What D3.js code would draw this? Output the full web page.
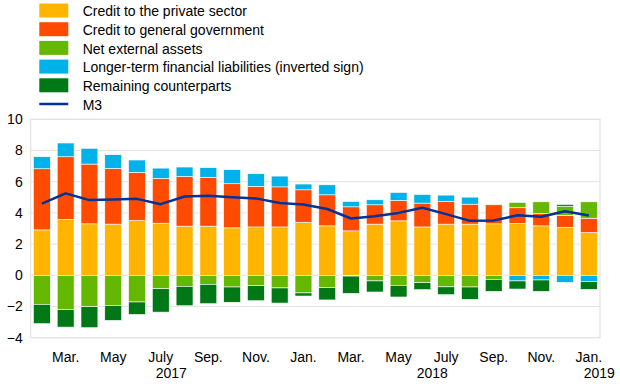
<!DOCTYPE html>
<html>
<head>
<meta charset="utf-8">
<script src="https://cdn.jsdelivr.net/npm/d3@7/dist/d3.min.js"></script>
<style>
  html, body { margin: 0; padding: 0; background: #fff; }
  svg { display: block; font-family: "Liberation Sans", Arial, sans-serif; }
</style>
</head>
<body>
<svg id="chart" width="620" height="387"></svg>
<script>
// Months: Feb 2017 .. Jan 2019
const monthNames = ["Feb.","Mar.","Apr.","May","June","July","Aug.","Sep.","Oct.","Nov.","Dec.","Jan.",
                    "Feb.","Mar.","Apr.","May","June","July","Aug.","Sep.","Oct.","Nov.","Dec.","Jan."];
const years = [2017,2017,2017,2017,2017,2017,2017,2017,2017,2017,2017,2018,
               2018,2018,2018,2018,2018,2018,2018,2018,2018,2018,2018,2019];

const privateSector = [2.91, 3.58, 3.30, 3.28, 3.51, 3.34, 3.15, 3.15, 3.04, 3.10, 3.10, 3.40,
                       3.17, 2.85, 3.28, 3.49, 3.10, 3.28, 3.28, 3.30, 3.32, 3.17, 3.08, 2.74];
const generalGov    = [3.92, 4.02, 3.83, 3.57, 3.09, 2.87, 3.19, 3.12, 2.83, 2.60, 2.57, 2.08,
                       1.99, 1.54, 1.24, 1.31, 1.53, 1.45, 1.28, 1.22, 1.01, 0.79, 0.77, 0.92];
const netExternal   = [-1.86, -2.20, -2.01, -1.93, -1.71, -0.86, -0.71, -0.58, -0.75, -0.66, -0.81, -1.13,
                       -0.79, -0.05, -0.36, -0.64, -0.47, -0.74, -0.75, -0.26, 0.34, 0.75, 0.58, 1.05];
const longerTerm    = [0.77, 0.88, 1.01, 0.88, 0.79, 0.66, 0.60, 0.63, 0.90, 0.81, 0.69, 0.37,
                       0.64, 0.34, 0.32, 0.51, 0.55, 0.41, 0.45, 0.00, -0.36, -0.30, -0.45, -0.39];
const remaining     = [-1.24, -1.12, -1.35, -0.96, -0.80, -1.50, -1.24, -1.24, -0.98, -0.97, -0.97, -0.20,
                       -0.79, -1.11, -0.71, -0.75, -0.45, -0.50, -0.79, -0.77, -0.52, -0.73, 0.11, -0.51];
const m3            = [4.60, 5.25, 4.82, 4.86, 4.90, 4.56, 5.05, 5.10, 5.01, 4.93, 4.63, 4.54,
                       4.25, 3.64, 3.79, 4.00, 4.33, 3.92, 3.49, 3.51, 3.85, 3.75, 4.11, 3.83];

const seriesKeys   = ["private", "gov", "nea", "lt", "rem"];
const seriesNames  = ["Credit to the private sector", "Credit to general government", "Net external assets",
                      "Longer-term financial liabilities (inverted sign)", "Remaining counterparts"];
const seriesColors = ["#FFB400", "#FF4B00", "#65B800", "#00B1EA", "#007816"];
const m3Name = "M3", m3Color = "#003299";
const yTicks = [-4, -2, 0, 2, 4, 6, 8, 10];

const categories = monthNames.map((m, i) => m + " " + years[i]);
const table = categories.map((c, i) => ({
  cat: c, private: privateSector[i], gov: generalGov[i], nea: netExternal[i], lt: longerTerm[i], rem: remaining[i]
}));

const svg = d3.select("#chart");
const pLeft = 30.7, pRight = 600, pTop = 119.3, pBottom = 337.7;

const x = d3.scaleBand().domain(categories).range([pLeft, pRight]).paddingInner(0.29).paddingOuter(0.115);
const y = d3.scaleLinear().domain([-4, 10]).range([pBottom, pTop]);

// gridlines
svg.append("g").selectAll("line").data(yTicks).join("line")
  .attr("x1", pLeft).attr("x2", pRight)
  .attr("y1", d => y(d)).attr("y2", d => y(d))
  .attr("stroke", "#e3e3e3").attr("stroke-width", 1);
// plot frame
svg.append("rect").attr("x", pLeft).attr("y", pTop).attr("width", pRight - pLeft).attr("height", pBottom - pTop)
  .attr("fill", "none").attr("stroke", "#e3e3e3").attr("stroke-width", 1.2);

// y axis labels
const yAxis = d3.axisLeft(y).tickValues(yTicks).tickSize(0).tickPadding(8);
const yg = svg.append("g").attr("transform", `translate(${pLeft},0)`).call(yAxis);
yg.select(".domain").remove();
yg.selectAll("text").attr("font-size", 14).attr("fill", "#000").attr("font-family", "Liberation Sans, Arial, sans-serif");

// stacked bars
const stack = d3.stack().keys(seriesKeys).offset(d3.stackOffsetDiverging);
const stacked = stack(table);
svg.append("g").selectAll("g").data(stacked).join("g")
  .attr("fill", (d, i) => seriesColors[i])
  .selectAll("rect").data(d => d).join("rect")
  .attr("x", d => x(d.data.cat))
  .attr("width", x.bandwidth())
  .attr("y", d => y(Math.max(d[0], d[1])))
  .attr("height", d => Math.abs(y(d[0]) - y(d[1])))
  .attr("stroke", "#ffffff").attr("stroke-width", 0.6);

// M3 line
const line = d3.line().x((d, i) => x(categories[i]) + x.bandwidth() / 2).y(d => y(d));
svg.append("path").datum(m3).attr("d", line)
  .attr("fill", "none").attr("stroke", m3Color).attr("stroke-width", 2.5).attr("stroke-linejoin", "round");

// x axis labels (every second month starting with Mar.)
const xAxis = d3.axisBottom(x)
  .tickValues(categories.filter((c, i) => i % 2 === 1))
  .tickFormat(c => monthNames[categories.indexOf(c)])
  .tickSize(0).tickPadding(0);
const xg = svg.append("g").attr("transform", `translate(0,${pBottom})`).call(xAxis);
xg.select(".domain").remove();
xg.selectAll("text").attr("font-size", 14).attr("fill", "#000").attr("dy", null).attr("y", 24)
  .attr("font-family", "Liberation Sans, Arial, sans-serif");

// year labels
const yearList = [2017, 2018, 2019];
yearList.forEach(yr => {
  const idx = years.map((v, i) => v === yr ? i : -1).filter(i => i >= 0);
  let cx;
  if (yr === 2018) {
    cx = (x(categories[idx[0]]) + x(categories[idx[idx.length - 1]])) / 2 + x.bandwidth() / 2 - 2;
  } else if (yr === 2017) {
    cx = x(categories[5]) + x.bandwidth() / 2 + 10.5;
  } else {
    cx = x(categories[idx[0]]) + x.bandwidth() / 2 + 10.5;
  }
  svg.append("text").attr("x", cx).attr("y", 378.3).attr("text-anchor", "middle")
    .attr("font-size", 14).attr("fill", "#000").text(yr);
});

// legend
const lg = svg.append("g");
const rowH = 18.7, lx = 39.3, ly = 3.5;
seriesNames.forEach((n, i) => {
  lg.append("rect").attr("x", lx).attr("y", ly + i * rowH).attr("width", 29).attr("height", 14)
    .attr("fill", seriesColors[i]);
  lg.append("text").attr("x", 82.7).attr("y", ly + i * rowH + 12.6).attr("font-size", 14)
    .attr("fill", "#000").text(n);
});
const i5 = seriesNames.length;
lg.append("line").attr("x1", lx).attr("x2", lx + 29)
  .attr("y1", ly + i5 * rowH + 7).attr("y2", ly + i5 * rowH + 7)
  .attr("stroke", m3Color).attr("stroke-width", 2.5);
lg.append("text").attr("x", 82.7).attr("y", ly + i5 * rowH + 12.6).attr("font-size", 14)
  .attr("fill", "#000").text(m3Name);
</script>
</body>
</html>
